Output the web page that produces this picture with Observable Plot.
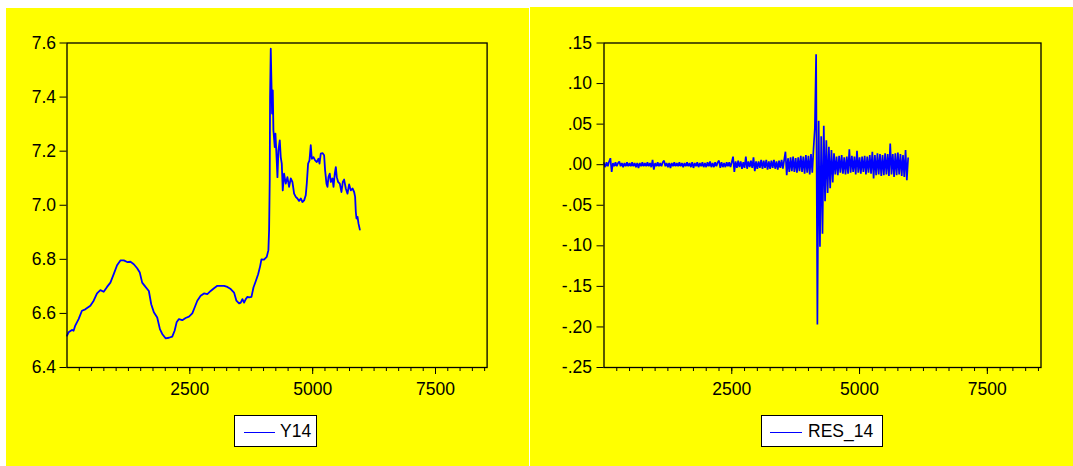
<!DOCTYPE html>
<html><head><meta charset="utf-8">
<script src="https://cdn.jsdelivr.net/npm/d3@7"></script>
<script src="https://cdn.jsdelivr.net/npm/@observablehq/plot@0.6"></script>
<style>
html,body{margin:0;padding:0;background:#fff;width:1073px;height:466px;overflow:hidden;}
.panel{position:absolute;background:#ffff00;}
.panel svg{position:absolute;left:0;top:0;}
.legend{position:absolute;background:#fff;border:1px solid #000;box-sizing:border-box;font-family:"Liberation Sans",Arial,sans-serif;font-size:17.5px;color:#000;}
.legend .swatch{position:absolute;height:0;border-top:1.5px solid #0000ff;}
.legend .lab{position:absolute;line-height:20px;top:5px;}
</style></head><body>
<div id="left" class="panel" style="left:6px;top:8px;width:523px;height:458px"></div>
<div id="right" class="panel" style="left:530px;top:7px;width:543px;height:459px"></div>
<div class="legend" style="left:234px;top:415px;width:83px;height:32px"><div class="swatch" style="left:9px;top:16px;width:31px"></div><div class="lab" style="left:45px">Y14</div></div>
<div class="legend" style="left:761px;top:415px;width:122px;height:32px"><div class="swatch" style="left:8px;top:16px;width:32px"></div><div class="lab" style="left:46px">RES_14</div></div>
<script>
// ---- data ----
const xDomain = [0, 8550];
const xMajorTicks = [2500, 5000, 7500];
const xMinorStep = 250;
const y14Ticks = [6.4, 6.6, 6.8, 7.0, 7.2, 7.4, 7.6];
const res14Ticks = [-0.25, -0.20, -0.15, -0.10, -0.05, 0.00, 0.05, 0.10, 0.15];

const y14Obs = [1,32,100,134,168,236,304,372,475,543,
611,679,747,815,883,951,1019,1087,1156,1224,
1292,1360,1428,1482,1530,1598,1666,1714,1768,1836,
1891,1938,2006,2074,2142,2190,2231,2278,2346,2414,
2482,2550,2598,2652,2720,2788,2856,2924,2992,3060,
3128,3196,3264,3332,3400,3448,3502,3536,3570,3604,
3638,3672,3706,3754,3795,3843,3890,3931,3957,4010,
4065,4099,4113,4126,4133,4147,4160,4174,4188,4201,
4228,4242,4262,4283,4303,4330,4350,4371,4391,4418,
4452,4486,4520,4554,4588,4622,4656,4690,4723,4758,
4792,4826,4859,4880,4907,4935,4961,4982,5016,5050,
5084,5118,5139,5165,5200,5233,5253,5281,5301,5322,
5348,5369,5403,5424,5450,5471,5491,5518,5552,5586,
5613,5640,5674,5709,5742,5776,5811,5844,5864,5878,
5892,5913,5933,5960];
const y14Values = [6.518,6.530,6.539,6.536,6.555,6.579,6.610,6.615,6.628,6.647,
6.674,6.686,6.680,6.698,6.714,6.745,6.778,6.796,6.796,6.790,
6.791,6.782,6.767,6.751,6.714,6.698,6.683,6.634,6.604,6.585,
6.542,6.524,6.508,6.510,6.514,6.536,6.567,6.579,6.575,6.583,
6.588,6.600,6.622,6.647,6.665,6.674,6.671,6.683,6.693,6.702,
6.702,6.702,6.698,6.690,6.677,6.647,6.637,6.640,6.653,6.640,
6.653,6.661,6.659,6.661,6.696,6.720,6.745,6.775,6.800,6.799,
6.809,6.834,6.908,7.092,7.400,7.579,7.462,7.339,7.425,7.277,
7.215,7.265,7.191,7.104,7.203,7.240,7.178,7.154,7.055,7.117,
7.080,7.104,7.068,7.099,7.086,7.043,7.031,7.025,7.016,7.025,
7.012,7.018,7.037,7.080,7.154,7.166,7.222,7.172,7.178,7.166,
7.160,7.172,7.154,7.191,7.193,7.185,7.129,7.080,7.068,7.104,
7.117,7.086,7.099,7.068,7.117,7.141,7.104,7.086,7.080,7.049,
7.086,7.095,7.062,7.043,7.077,7.055,7.062,7.049,7.031,6.975,
6.951,6.957,6.932,6.910];

// RES_14 sampled every 25 observations, starting at observation 0
const res14Start = 0;
const res14Step = 25;
const res14Values = [
0.002,-0.003,0.003,-0.002,0.004,0.008,-0.009,0.002,-0.002,0.003,-0.002,0.002,0.004,-0.002,0.002,-0.003,0.002,-0.002,0.003,-0.002,
0.002,-0.002,0.003,-0.002,0.002,-0.003,0.002,-0.004,0.002,-0.002,0.003,-0.002,0.002,-0.002,0.003,-0.002,0.002,-0.003,0.006,-0.006,
0.002,-0.002,0.003,-0.002,0.002,-0.002,0.003,0.005,-0.002,0.002,-0.003,0.002,-0.004,0.002,-0.002,0.003,-0.002,0.002,-0.002,0.003,
-0.002,0.002,-0.003,0.002,-0.002,0.003,-0.002,0.002,-0.003,0.003,-0.004,0.002,-0.002,0.003,-0.003,0.002,-0.002,0.003,-0.003,0.002,
-0.003,0.003,-0.002,0.004,-0.003,0.002,-0.003,0.003,-0.002,0.003,0.005,-0.004,0.003,-0.003,0.002,-0.003,0.003,-0.002,0.003,-0.003,
0.003,0.010,-0.009,0.004,-0.004,0.005,-0.003,0.004,-0.005,0.003,-0.004,0.010,-0.005,0.004,-0.003,0.005,-0.004,0.009,-0.008,0.004,
-0.005,0.004,-0.004,0.006,-0.005,0.005,-0.004,0.006,-0.006,0.004,-0.005,0.005,-0.004,0.006,-0.005,0.004,-0.006,0.005,-0.004,0.006,
-0.005,0.006,0.016,-0.013,0.008,-0.009,0.009,-0.008,0.010,-0.009,0.008,-0.010,0.009,-0.008,0.011,-0.009,0.010,-0.011,0.012,-0.010,
0.011,-0.012,0.013,-0.010,0.020,0.045,0.136,-0.197,0.054,-0.101,0.035,-0.085,0.048,-0.045,0.030,-0.035,0.022,-0.029,0.018,-0.022,
0.014,-0.012,0.010,-0.013,0.011,-0.010,0.012,-0.011,0.009,-0.012,0.010,-0.011,0.019,-0.010,0.011,-0.009,0.010,-0.012,0.017,-0.010,
0.009,-0.011,0.010,-0.009,0.011,-0.012,0.010,-0.010,0.012,-0.011,0.016,-0.017,0.012,-0.013,0.014,-0.012,0.013,-0.014,0.012,-0.013,
0.014,-0.012,0.013,-0.014,0.026,-0.012,0.013,-0.015,0.014,-0.013,0.015,-0.012,0.013,-0.014,0.012,-0.015,0.018,-0.019,0.008];

// ---- build tables ----
const y14Data = y14Obs.map((o, i) => ({obs: o, value: y14Values[i]}));
const res14Data = res14Values.map((v, i) => ({obs: res14Start + i * res14Step, value: v}));
const xMinorTicks = d3.range(xMinorStep, xDomain[1], xMinorStep);

const FONT = '"Liberation Sans", Arial, Helvetica, sans-serif';
const baseStyle = {background: "transparent", fontFamily: FONT, fontSize: "17.5px", color: "black", overflow: "visible"};
const resFmt = d => (d < 0 ? "-" : "") + Math.abs(d).toFixed(2).replace(/^0/, "");

function axesX() {
  return [
    Plot.axisX(xMinorTicks, {tickSize: 4, tickFormat: () => "", label: null, stroke: "black"}),
    Plot.axisX(xMajorTicks, {tickSize: 7, tickPadding: 8, tickFormat: d => String(d), label: null, stroke: "black", fill: "black", fontSize: 17.5})
  ];
}

const leftPlot = Plot.plot({
  width: 523, height: 458,
  marginLeft: 60.5, marginRight: 42.4, marginTop: 34.5, marginBottom: 99,
  style: baseStyle,
  x: {domain: xDomain, label: null},
  y: {domain: [6.4, 7.6], label: null},
  marks: [
    Plot.line(y14Data, {x: "obs", y: "value", stroke: "#0000ff", strokeWidth: 1.8}),
    Plot.frame({stroke: "black", strokeWidth: 1.3}),
    Plot.axisY(y14Ticks, {tickSize: 7, tickPadding: 4, tickFormat: d => d.toFixed(1), label: null, stroke: "black", fill: "black", fontSize: 17.5}),
    ...axesX()
  ]
});
document.getElementById("left").appendChild(leftPlot);

const rightPlot = Plot.plot({
  width: 543, height: 459,
  marginLeft: 73.5, marginRight: 32.5, marginTop: 35.5, marginBottom: 99,
  style: baseStyle,
  x: {domain: xDomain, label: null},
  y: {domain: [-0.25, 0.15], label: null},
  marks: [
    Plot.line(res14Data, {x: "obs", y: "value", stroke: "#0000ff", strokeWidth: 1.7, strokeLinejoin: "miter"}),
    Plot.frame({stroke: "black", strokeWidth: 1.3}),
    Plot.axisY(res14Ticks, {tickSize: 7, tickPadding: 5, tickFormat: resFmt, label: null, stroke: "black", fill: "black", fontSize: 17.5}),
    ...axesX()
  ]
});
document.getElementById("right").appendChild(rightPlot);
</script>
</body></html>
